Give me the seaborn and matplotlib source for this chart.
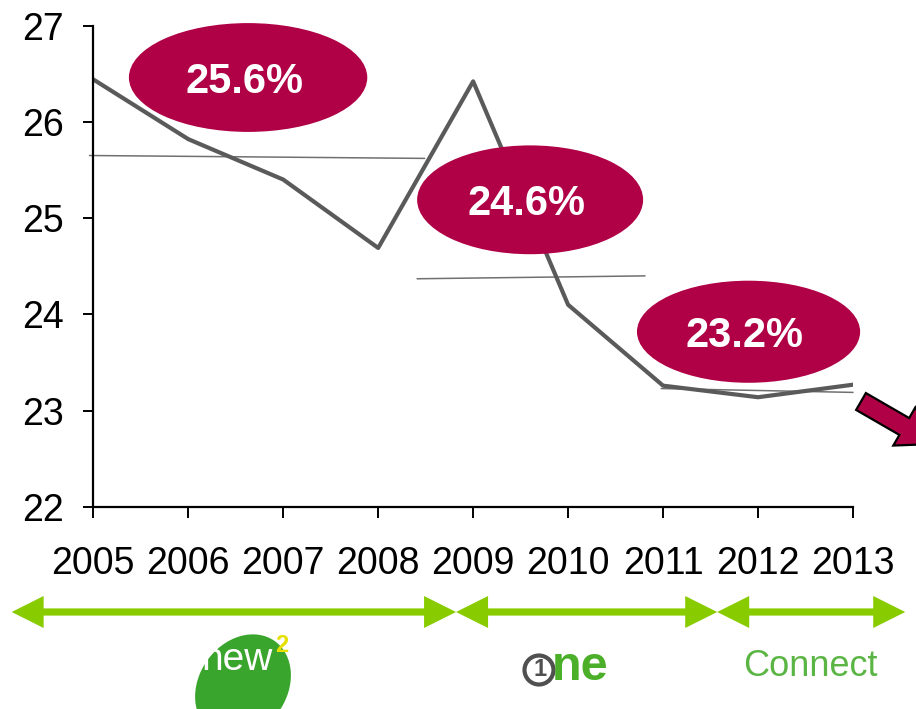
import matplotlib
matplotlib.use("Agg")
import matplotlib.pyplot as plt
import seaborn as sns
import pandas as pd
from matplotlib.patches import Ellipse, Circle, Polygon, FancyArrow

# ---------------- data ----------------
years = [2005, 2006, 2007, 2008, 2009, 2010, 2011, 2012, 2013]
values = [26.44, 25.82, 25.40, 24.69, 26.42, 24.10, 23.26, 23.14, 23.27]
year_labels = ["2005", "2006", "2007", "2008", "2009", "2010", "2011", "2012", "2013"]
y_ticks = [22, 23, 24, 25, 26, 27]

trend1_x = [2004.96, 2008.49]
trend1_y = [25.65, 25.62]
trend2_x = [2008.41, 2010.81]
trend2_y = [24.37, 24.40]
trend3_x = [2010.98, 2013.00]
trend3_y = [23.23, 23.19]

bubble_labels = ["25.6%", "24.6%", "23.2%"]
bubble_x = [2006.63, 2009.60, 2011.90]
bubble_y = [26.46, 25.19, 23.82]
bubble_w = [2.51, 2.38, 2.35]
bubble_h = [1.13, 1.13, 1.06]

era_start = [2004.14, 2008.82, 2011.57]
era_end = [2008.82, 2011.57, 2013.55]

# ---------------- style ----------------
sns.set_style("white")
plt.rcParams["font.family"] = ["Liberation Sans", "DejaVu Sans"]

W, H, DPI = 916, 709, 100
fig = plt.figure(figsize=(W / DPI, H / DPI), dpi=DPI)
ax = fig.add_axes([93.3 / W, 1 - 507 / H, (853 - 93.3) / W, (507 - 25.5) / H])

LINE = "#5A5A5A"
RED = "#B00046"
LIME = "#88CC00"

df = pd.DataFrame({"year": years, "value": values})
sns.lineplot(data=df, x="year", y="value", ax=ax, color=LINE, linewidth=3.0, zorder=2)

for tx, ty in [(trend1_x, trend1_y), (trend2_x, trend2_y), (trend3_x, trend3_y)]:
    ax.plot(tx, ty, color="#707070", linewidth=1.1, zorder=1.5, clip_on=False)

for lab, cx, cy, w, h in zip(bubble_labels, bubble_x, bubble_y, bubble_w, bubble_h):
    ax.add_patch(Ellipse((cx, cy), w, h, facecolor=RED, edgecolor="none",
                         zorder=3, clip_on=False))
    ax.text(cx - 0.04, cy, lab, color="white", fontsize=30, fontweight="bold",
            ha="center", va="center_baseline", zorder=4)

ax.set_xlim(2005, 2013)
ax.set_ylim(22, 27)
ax.set_xticks(years)
ax.set_xticklabels(year_labels)
ax.set_yticks(y_ticks)
ax.set_xlabel("")
ax.set_ylabel("")
for s in ["top", "right"]:
    ax.spines[s].set_visible(False)
for s in ["left", "bottom"]:
    ax.spines[s].set_color("black")
    ax.spines[s].set_linewidth(1.6)
ax.tick_params(axis="y", direction="out", length=7, width=1.4, pad=14,
               labelsize=27, colors="black", left=True)
ax.tick_params(axis="x", direction="out", length=8, width=1.4, pad=20,
               labelsize=27, colors="black", bottom=True)

# ---------------- overlay (pixel space) ----------------
ov = fig.add_axes([0, 0, 1, 1], zorder=5)
ov.set_xlim(0, W)
ov.set_ylim(0, H)
ov.axis("off")
ov.patch.set_alpha(0)

def px(xdata):
    return ax.transData.transform((xdata, 22))[0]

# era double arrows
ay = H - 612
hl, hw, t = 32, 16, 3.6
for xs, xe in zip(era_start, era_end):
    x0, x1 = px(xs), px(xe)
    pts = [(x0, ay), (x0 + hl, ay + hw), (x0 + hl, ay + t), (x1 - hl, ay + t),
           (x1 - hl, ay + hw), (x1, ay), (x1 - hl, ay - hw), (x1 - hl, ay - t),
           (x0 + hl, ay - t), (x0 + hl, ay - hw)]
    ov.add_patch(Polygon(pts, closed=True, facecolor=LIME, edgecolor="none"))

# magenta trend arrow
ov.add_patch(FancyArrow(861, H - 401.5, 73.6, -42.5, width=19.5, head_width=44,
                        head_length=35, length_includes_head=True,
                        facecolor=RED, edgecolor="black", linewidth=1.6))

# new2 logo
ov.add_patch(Ellipse((243, H - 686), 110, 88, angle=55, facecolor="#3AA52D",
                     edgecolor="none"))
ov.text(237, H - 670, "new", color="white", fontsize=28, ha="center",
        va="baseline")
ov.text(282, H - 646, "2", color="#E6E000", fontsize=17, fontweight="bold",
        ha="center", va="center")

# one logo
ov.add_patch(Circle((539, H - 670), 14.5, facecolor="none", edgecolor="#505050",
                    linewidth=3.0))
ov.text(540, H - 670, "1", color="#505050", fontsize=17, fontweight="bold",
        ha="center", va="center")
ov.text(580, H - 668, "ne", color="#4CAF2A", fontsize=35, fontweight="bold",
        ha="center", va="center")

# Connect logo
ov.text(810, H - 666, "Connect", color="#5BB544", fontsize=26, ha="center",
        va="center")

fig.savefig("out.png", dpi=DPI)
